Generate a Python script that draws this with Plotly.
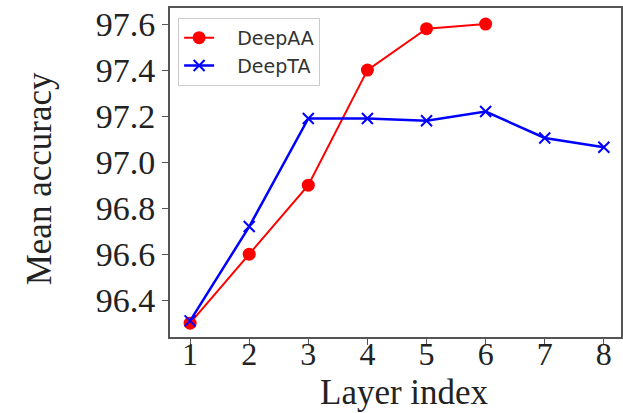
import plotly.graph_objects as go

layers_aa = [1, 2, 3, 4, 5, 6]
deepaa = [96.30, 96.60, 96.90, 97.40, 97.58, 97.60]
layers_ta = [1, 2, 3, 4, 5, 6, 7, 8]
deepta = [96.31, 96.72, 97.19, 97.19, 97.18, 97.22, 97.105, 97.065]
y_ticks = [96.4, 96.6, 96.8, 97.0, 97.2, 97.4, 97.6]
x_ticks = [1, 2, 3, 4, 5, 6, 7, 8]

serif = "Liberation Serif"
txt = "#222222"
pad = "\u00a0" * 3

fig = go.Figure()
fig.add_trace(go.Scatter(x=layers_aa, y=deepaa, name=pad + "DeepAA", mode="lines+markers",
                         line=dict(color="#ff0000", width=2),
                         marker=dict(symbol="circle", size=13, color="#ff0000")))
fig.add_trace(go.Scatter(x=layers_ta, y=deepta, name=pad + "DeepTA", mode="lines+markers",
                         line=dict(color="#0000ff", width=2.5),
                         marker=dict(symbol="x-thin", size=11, color="#0000ff",
                                     line=dict(width=2, color="#0000ff"))))

fig.update_layout(
    width=623, height=413,
    margin=dict(l=170, r=2, t=8, b=76),
    paper_bgcolor="white", plot_bgcolor="white",
    showlegend=True,
    legend=dict(x=0.018, y=0.97, xanchor="left", yanchor="top",
                bgcolor="white", bordercolor="#cccccc", borderwidth=1,
                font=dict(family="DejaVu Sans", size=19, color="#333333"),
                tracegroupgap=0),
    xaxis=dict(range=[0.66, 8.29], tickvals=x_ticks, ticktext=[str(v) for v in x_ticks],
               showgrid=False, zeroline=False, showline=True, linecolor="#555555", linewidth=2,
               mirror=True, ticks="outside", ticklen=6, tickcolor="#555555",
               automargin=False, ticklabelstandoff=-18,
               tickfont=dict(family=serif, size=32, color=txt)),
    yaxis=dict(range=[96.24, 97.67], tickvals=y_ticks, ticktext=[f"{v:.1f}" for v in y_ticks],
               showgrid=False, zeroline=False, showline=True, linecolor="#555555", linewidth=2,
               mirror=True, ticks="outside", ticklen=6, tickcolor="#555555",
               automargin=False,
               tickfont=dict(family=serif, size=34, color=txt)),
    annotations=[
        dict(text="Layer index", xref="paper", yref="paper", x=0.52, y=-0.235,
             xanchor="center", yanchor="bottom", showarrow=False,
             font=dict(family=serif, size=35, color=txt)),
        dict(text="Mean accuracy", xref="paper", yref="paper", x=-0.29, y=0.48,
             xanchor="center", yanchor="middle", showarrow=False, textangle=-90,
             font=dict(family=serif, size=35, color=txt)),
    ],
)

fig.write_html("out.html", config={"displayModeBar": False},
               post_script="document.body.style.margin='0px';")
